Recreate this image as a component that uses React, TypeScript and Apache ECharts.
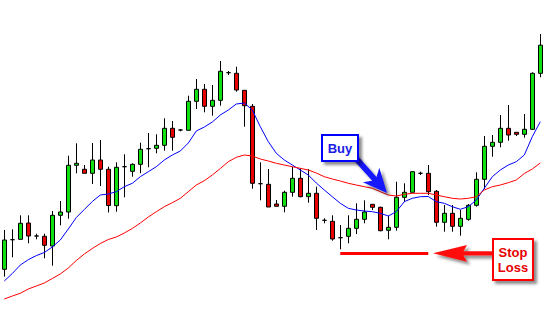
import React, { useEffect, useRef } from "react";
import * as echarts from "echarts";

const opens = [30.7, 60.3, 60.7, 77, 64, 63.7, 54, 84.7, 88, 134.7,
  130.7, 126.7, 140, 130.7, 94.3, 133.3, 128.7, 135.7, 151.3, 151.7,
  154.7, 171.7, 170, 169.7, 198.7, 210.7, 193.7, 199.7, 227.3, 226.7,
  209.7, 193.7, 116.3, 115.7, 96, 93.7, 107.7, 121.7, 103.3, 106.7,
  79.7, 78.7, 62.3, 63.7, 71.7, 80.7, 95.7, 92.7, 69.7, 72.7,
  102.7, 107.7, 126.7, 126.7, 108.7, 77.7, 86.7, 73.7, 80.7, 94.7,
  120.7, 153.7, 157.7, 171.7, 167.7, 165.7, 170.7, 226.7];
const closes = [60, 60.3, 76.7, 64, 64, 54.7, 84.7, 88, 134.7, 136.7,
  126.7, 140, 130.7, 94.5, 132.7, 133.3, 135.7, 150.7, 151.3, 154.7,
  171.7, 162.7, 170, 198.7, 210.7, 193.7, 199.7, 228.7, 227.3, 210,
  194.3, 116.7, 116.3, 93, 93.7, 107.7, 121.7, 103.3, 106.7, 81.7,
  79.7, 61, 62.3, 71.7, 80.7, 88, 92.7, 69.3, 72.7, 102.7,
  107.7, 128.3, 126.7, 108.3, 77.7, 86.7, 73.7, 81.7, 94.7, 120.7,
  153.7, 157.7, 171.7, 165, 165.7, 170.7, 226.7, 254.8];
const lows = [23.3, 42.7, 60.7, 56.7, 60.7, 41.7, 34.3, 74.7, 81.3, 126.7,
  126.7, 116, 114, 87.5, 88.3, 102.7, 123.3, 126.7, 132.7, 146.7,
  149.3, 149.3, 168.7, 169.7, 191, 187.7, 184.3, 194.3, 225, 208.3,
  173.3, 111.3, 99.7, 93, 93.7, 87.7, 103.3, 102.7, 97.3, 70,
  76.7, 59.3, 50.7, 56.7, 66, 76.7, 90, 68.7, 60.7, 69.3,
  98.3, 107.7, 125, 105, 73.3, 68.3, 68.3, 64.3, 79.3, 93.3,
  111, 143.3, 152.7, 159.3, 164, 162.3, 170, 222.7];
const highs = [70, 70.7, 84.7, 84.7, 66.3, 66.3, 89, 99, 144.3, 156.7,
  135, 157, 160, 133.3, 137.7, 145.7, 136.7, 157.3, 167, 165.7,
  181.7, 179, 171, 204.3, 221, 216, 215, 239, 229, 233.3,
  209.7, 196, 137.7, 131, 100, 109.3, 133.3, 131.7, 131, 113.3,
  81.7, 84.7, 75, 84.7, 96.7, 99.7, 95.7, 93.3, 84.3, 118.3,
  116.7, 128.3, 128.3, 135, 110, 95, 95, 90, 96, 127.7,
  164, 165, 185, 195, 167.7, 186, 227.7, 266];
const fastMA = [19, 26.5, 35, 40.3, 44.4, 47.5, 53, 60, 71, 82.5,
  90.5, 98.5, 105, 106, 108.3, 113.3, 116.7, 123.3, 128.3, 133.3,
  140, 145, 149, 157, 169, 173, 178, 185, 190, 196,
  197, 190, 173.3, 158.3, 146.7, 140, 135, 130, 125, 117,
  110, 103.3, 96.7, 91.7, 90, 89, 88.3, 86.7, 84, 88.3,
  98.3, 101.7, 103.3, 103.5, 98.3, 96.7, 93.3, 90.7, 93.3, 100,
  111.7, 123.3, 130, 135, 138.3, 145, 163.3, 178.3];
const slowMA = [1, 4, 6.7, 11, 14, 17, 21.5, 26, 32, 39.5,
  46, 51.5, 56.5, 60.5, 63, 67, 71.5, 77, 83, 88.3,
  93.3, 97.3, 101.7, 108.3, 115, 119.3, 125, 131.5, 138.3, 142.7,
  145, 144, 141, 139, 136.7, 135, 133.3, 131.7, 130, 127,
  123.3, 121, 119, 116.7, 115, 113.3, 111.7, 108.3, 105, 104,
  105.7, 106.7, 106.7, 106.7, 105, 103.3, 101.7, 101, 101.7, 103.3,
  110, 113.3, 115, 117.3, 120, 126.5, 131, 137];
const categories = opens.map((_, i) => "Bar " + (i + 1));
const stopLevel = 46.7;
const stopFrom = 41.5;
const stopTo = 53;

export default function App() {
  const ref = useRef<HTMLDivElement>(null);
  useEffect(() => {
    if (!ref.current) return;
    const chart = echarts.init(ref.current, null, { renderer: "svg" });
    const candles = opens.map((o, i) => [o, closes[i], lows[i], highs[i]]);
    const shadow = { shadowColor: "rgba(0,0,0,0.45)", shadowBlur: 3, shadowOffsetX: 3, shadowOffsetY: 3 };
    chart.setOption({
      animation: false,
      backgroundColor: "#ffffff",
      grid: { left: 0.3, right: 1.7, top: 0, bottom: 12, containLabel: false },
      xAxis: { type: "category", data: categories, show: false, boundaryGap: true },
      yAxis: { type: "value", min: 0, max: 300, show: false },
      series: [
        {
          type: "candlestick",
          data: candles,
          barWidth: 5,
          z: 2,
          itemStyle: {
            color: "#10e010",
            color0: "#e60000",
            borderColor: "#000000",
            borderColor0: "#000000",
            borderColorDoji: "#000000",
            borderWidth: 1,
          },
          markLine: {
            silent: true,
            symbol: ["none", "none"],
            label: { show: false },
            lineStyle: { color: "#ff0000", width: 3, type: "solid" },
            data: [[{ coord: [stopFrom, stopLevel] }, { coord: [stopTo, stopLevel] }]],
          },
        },
        {
          type: "line",
          data: fastMA,
          showSymbol: false,
          z: 3,
          lineStyle: { color: "#0000ff", width: 1 },
        },
        {
          type: "line",
          data: slowMA,
          showSymbol: false,
          z: 3,
          lineStyle: { color: "#ff0000", width: 1 },
        },
      ],
      graphic: [
        {
          type: "polygon",
          z: 100,
          shape: {
            points: [[354.1, 152.1], [376.5, 177.0], [379.3, 167.7], [387, 193], [362.9, 182.3], [372.3, 180.7], [349.9, 155.9]],
          },
          style: { fill: "#1515ff", ...shadow },
        },
        {
          type: "rect",
          z: 101,
          shape: { x: 322, y: 135, width: 36, height: 26 },
          style: { fill: "#ffffff", stroke: "#0000ff", lineWidth: 2, ...shadow },
        },
        {
          type: "text",
          z: 102,
          style: {
            text: "Buy", x: 340, y: 148.5, fill: "#1a1ae6",
            font: "bold 13px Arial, 'Liberation Sans', sans-serif",
            align: "center", verticalAlign: "middle",
          },
        },
        {
          type: "polygon",
          z: 100,
          shape: {
            points: [[433, 253.3], [467, 245], [463.5, 251.2], [494, 251.2], [494, 255.5], [463.5, 255.5], [467, 261.7]],
          },
          style: { fill: "#ff1010", ...shadow },
        },
        {
          type: "rect",
          z: 101,
          shape: { x: 493, y: 239, width: 40, height: 41 },
          style: { fill: "#ffffff", stroke: "#ff0000", lineWidth: 2, ...shadow },
        },
        {
          type: "text",
          z: 102,
          style: {
            text: "Stop", x: 513, y: 252.5, fill: "#e60000",
            font: "bold 13px Arial, 'Liberation Sans', sans-serif",
            align: "center", verticalAlign: "middle",
          },
        },
        {
          type: "text",
          z: 102,
          style: {
            text: "Loss", x: 513, y: 267.5, fill: "#e60000",
            font: "bold 13px Arial, 'Liberation Sans', sans-serif",
            align: "center", verticalAlign: "middle",
          },
        },
      ],
    });
    return () => chart.dispose();
  }, []);
  return (
    <div
      ref={ref}
      style={{ position: "absolute", left: 0, top: 0, width: 546, height: 312, background: "#ffffff" }}
    />
  );
}
